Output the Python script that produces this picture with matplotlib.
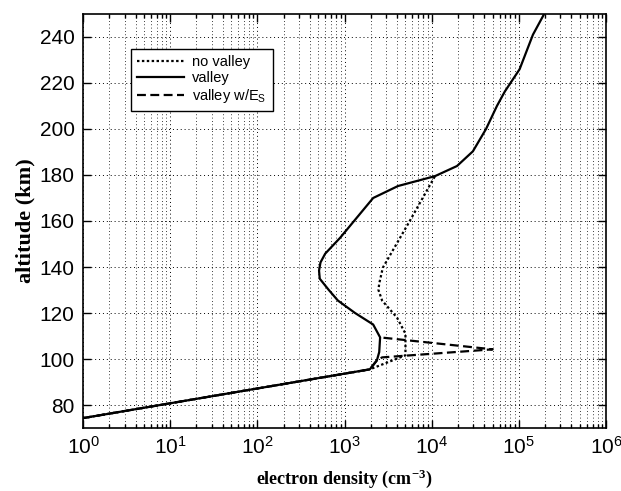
import matplotlib
matplotlib.use("Agg")
import matplotlib.pyplot as plt
from matplotlib.ticker import LogLocator, FixedLocator

plt.rcParams['font.family'] = ['Liberation Sans', 'DejaVu Sans']
plt.rcParams['mathtext.default'] = 'regular'

# altitude (km) and electron density (cm^-3)
alt_valley = [74.3, 95.5, 99.4, 103.0, 109.4, 115.0, 120.0, 125.4, 130.0, 134.9,
              138.4, 142.0, 145.8, 152.7, 170.0, 175.2, 179.5, 183.9, 190.3,
              200.0, 210.0, 216.3, 226.0, 241.0, 250.0]
ne_valley = [1, 1950, 2350, 2500, 2560, 2130, 1320, 840, 660, 520,
             510, 530, 600, 890, 2130, 4100, 10900, 19500, 29700,
             42000, 56000, 69000, 102000, 145000, 195000]

alt_novalley = [74.3, 95.5, 101.6, 111.0, 118.0, 125.4, 130.0, 132.8, 139.7,
                160.0, 179.5]
ne_novalley = [1, 1950, 5000, 5000, 4000, 2700, 2450, 2500, 2750,
               5600, 10900]

alt_es = [74.3, 95.5, 99.4, 100.7, 104.2, 109.4]
ne_es = [1, 1950, 2350, 2700, 50000, 2560]

fig = plt.figure(figsize=(6.21, 4.91), dpi=100)
ax = fig.add_axes([0.1337, 0.1283, 0.8422, 0.8432])

ax.plot(ne_novalley, alt_novalley, color='black', lw=1.6, ls=(0, (1.1, 1.1)),
        label='no valley')
ax.plot(ne_valley, alt_valley, color='black', lw=1.6, label='valley')
ax.plot(ne_es, alt_es, color='black', lw=1.6, ls=(0, (4, 2)),
        label='valley w/E$_{S}$')

ax.set_xscale('log')
ax.set_xlim(1, 1e6)
ax.set_ylim(70, 250)
ax.yaxis.set_major_locator(FixedLocator(range(80, 241, 20)))
ax.xaxis.set_major_locator(LogLocator(base=10, numticks=10))
ax.xaxis.set_minor_locator(LogLocator(base=10, subs=range(2, 10), numticks=100))

ax.grid(True, which='major', axis='both', color='black', lw=0.7, ls=(0, (1, 3)))
ax.grid(True, which='minor', axis='x', color='black', lw=0.6, ls=(0, (1, 3)))

ax.tick_params(which='both', direction='in', top=True, right=True,
               labelsize=15, width=1)
ax.tick_params(which='major', length=6, pad=6)
ax.tick_params(which='minor', length=3)
for s in ax.spines.values():
    s.set_linewidth(1.2)

ax.set_xlabel('electron density (cm$^{-3}$)', family='Liberation Serif',
              weight='bold', fontsize=13, labelpad=7)
ax.set_ylabel('altitude (km)', family='Liberation Serif', weight='bold',
              fontsize=16, labelpad=3)

leg = ax.legend(loc='upper left', bbox_to_anchor=(0.092, 0.915), fontsize=10.5,
                frameon=True, fancybox=False, handlelength=3.2,
                handletextpad=0.6, borderpad=0.4, labelspacing=0.15,
                borderaxespad=0)
leg.get_frame().set_edgecolor('black')
leg.get_frame().set_linewidth(1.0)
leg.get_frame().set_alpha(1)

fig.savefig('out.png', dpi=100)
